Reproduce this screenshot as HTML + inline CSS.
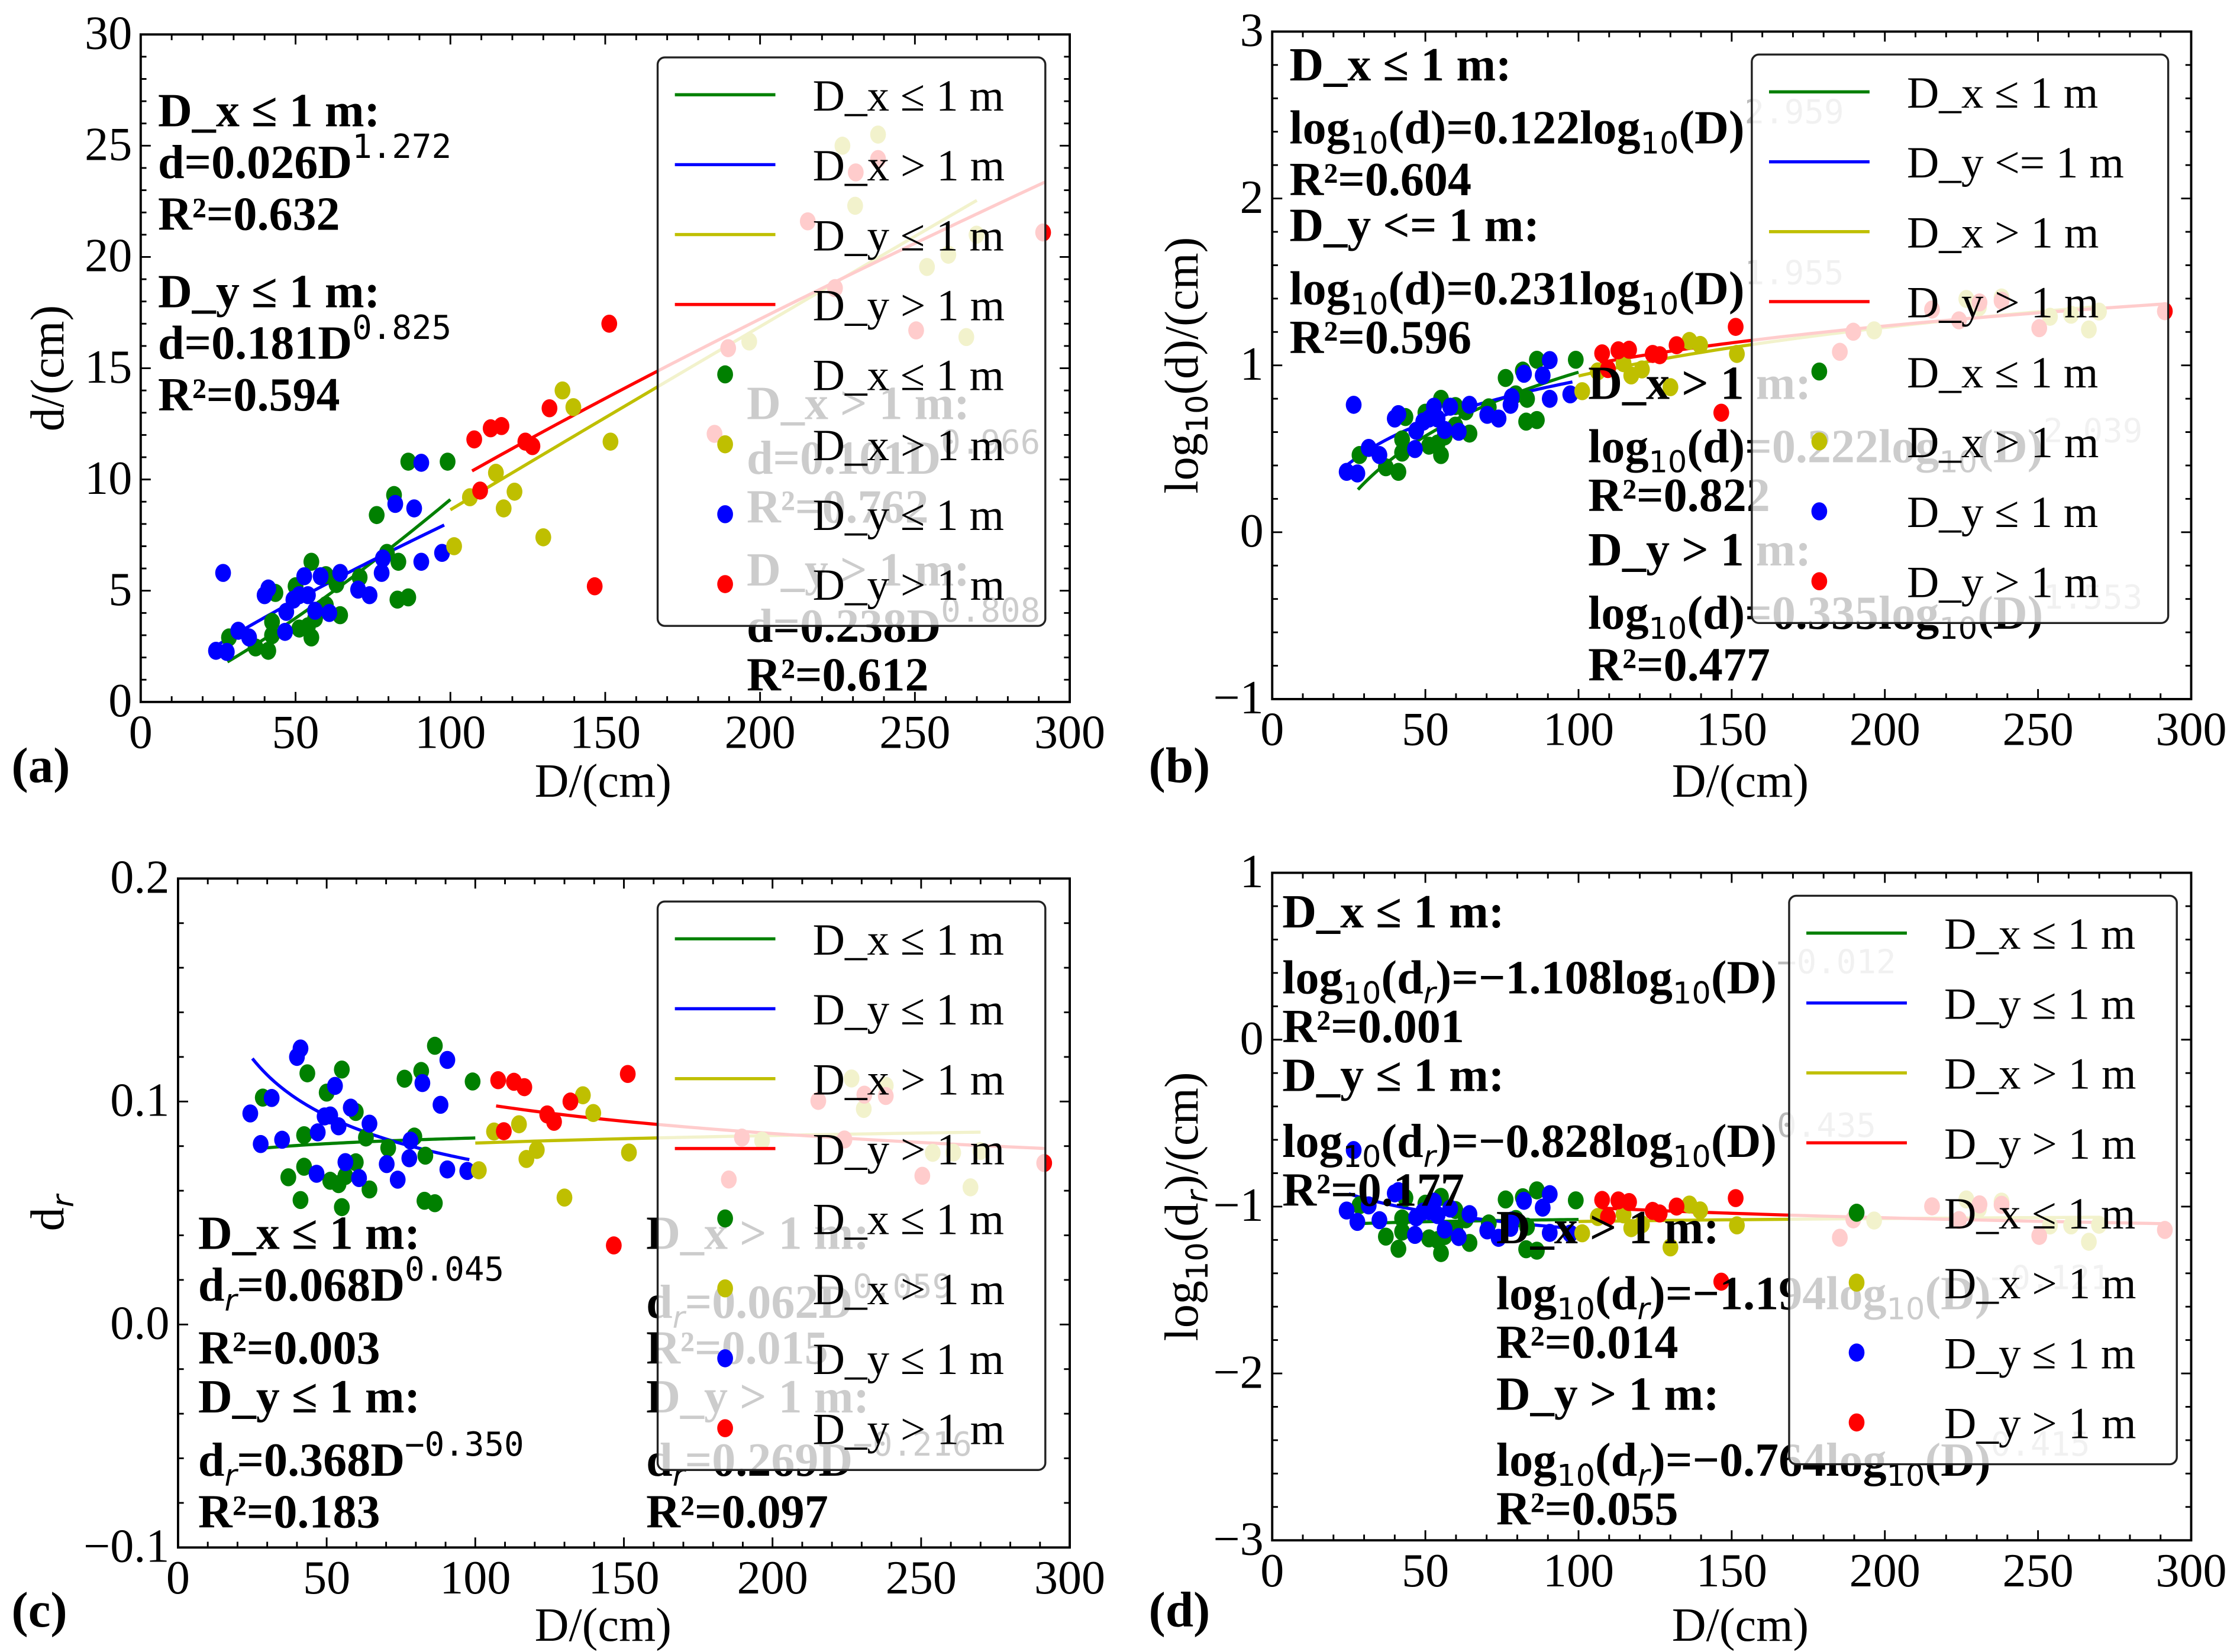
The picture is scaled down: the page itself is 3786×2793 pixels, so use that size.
<!DOCTYPE html>
<html><head><meta charset="utf-8"><style>
html,body{margin:0;padding:0;background:#fff;}
svg{display:block;}
.tk{font-family:"Liberation Serif",serif;font-size:33px;}
.an{font-family:"Liberation Serif",serif;font-size:33px;font-weight:bold;}
.sp{font-family:"DejaVu Sans Mono",monospace;font-size:23px;font-weight:normal;}
.sb{font-family:"DejaVu Sans",sans-serif;font-size:21px;font-weight:normal;}
.lg{font-family:"Liberation Serif",serif;font-size:31px;}
.ax{font-family:"Liberation Serif",serif;font-size:33px;}
.pl{font-family:"Liberation Serif",serif;font-size:35px;font-weight:bold;}
</style></head><body>
<svg id="fig" xmlns="http://www.w3.org/2000/svg" width="3786" height="2793" viewBox="0 0 1560 1150.8" preserveAspectRatio="none">
<rect x="0" y="0" width="1560" height="1151" fill="#fff"/>
<g id="layer-a"></g><g id="layer-b"></g><g id="layer-c"></g><g id="layer-d"></g>
</svg>
<script>
// ---- data: D (cm) and d (cm) per group ----
const greenD=[86.4,99.1,81.8,76.2,83.2,55.1,82.9,86.4,70.7,64.4,63.2,59.8,56.3,55.1,50,42.4,42.4,41.2,37.1,28.5,43.5,51.2,54,59.8,79.5];
const greend=[10.8,10.8,9.3,8.4,6.3,6.3,4.6,4.7,5.6,3.9,5.3,5.7,3.75,2.9,5.2,3.6,3.0,2.3,2.45,2.9,4.9,3.3,3.4,4.35,6.7];
const blueD=[26.6,24.3,27.8,31.5,35,40,41.2,47,46.6,49.3,52.8,58.1,64.4,51.2,56.3,60.9,70.2,73.9,77.8,78.2,90.6,97.3,82.2,88.3,90.6,54];
const blued=[5.8,2.3,2.25,3.2,2.9,4.8,5.1,4.05,3.15,4.6,5.65,5.65,5.8,4.8,4.1,4.0,5.05,4.8,5.8,6.45,6.3,6.7,8.9,8.7,10.75,4.8];
const yellowD=[101.2,106.3,114.7,120.7,117.2,130,136.2,139.7,151.7,196.5,226.6,238.1,230.7,269.9,253.9,260.8,266.6];
const yellowd=[7.0,9.2,10.3,9.45,8.7,7.4,14.0,13.25,11.7,16.2,25.0,25.5,22.3,21.0,19.55,20.1,16.4];
const redD=[107.7,113,116.5,124.2,126.5,132,109.6,151.3,146.6,185.3,189.7,215.4,230.9,238.1,224.2,250.4,291.4];
const redd=[11.8,12.3,12.4,11.7,11.5,13.2,9.5,17.0,5.2,12.05,15.9,21.6,23.8,24.4,18.6,16.7,21.1];
// ---- fitted power laws (d = a D^b), order: green, blue, yellow, red ----
const fitA=[0.026,0.181,0.101,0.238];
const fitB=[1.272,0.825,0.966,0.808];
const fitLo=[28,24,100,107];
const fitHi=[100,98,270,292];
// relative depth fits dr = a D^b
const fitCA=[0.068,0.368,0.062,0.269];
const fitCB=[0.045,-0.350,0.059,-0.216];
const fitCLo=[28,25,100,107];
const fitCHi=[100,98,270,292];
const xTicks=[0,50,100,150,200,250,300];
const yTicksA=[0,5,10,15,20,25,30];
const yTicksB=[-1,0,1,2,3];
const yTicksC=[-0.1,0.0,0.1,0.2];
const yTicksCLabels=["\u22120.1","0.0","0.1","0.2"];
const yTicksD=[-3,-2,-1,0,1];
const legendA=["D_x \u2264 1 m","D_x > 1 m","D_y \u2264 1 m","D_y > 1 m","D_x \u2264 1 m","D_x > 1 m","D_y \u2264 1 m","D_y > 1 m"];
const legendB=["D_x \u2264 1 m","D_y <= 1 m","D_x > 1 m","D_y > 1 m","D_x \u2264 1 m","D_x > 1 m","D_y \u2264 1 m","D_y > 1 m"];
const legendCD=["D_x \u2264 1 m","D_y \u2264 1 m","D_x > 1 m","D_y > 1 m","D_x \u2264 1 m","D_x > 1 m","D_y \u2264 1 m","D_y > 1 m"];

const NS="http://www.w3.org/2000/svg";
const COL=["#008000","#0000ff","#bfbf00","#ff0000"];
const groupsD=[greenD,blueD,yellowD,redD];
const groupsd=[greend,blued,yellowd,redd];
const groupNames=["dx-le-1m","dy-le-1m","dx-gt-1m","dy-gt-1m"];
const legMarkerCol=[COL[0],COL[2],COL[1],COL[3]];

function mk(tag,attrs,parent){const e=document.createElementNS(NS,tag);for(const k in attrs)e.setAttribute(k,attrs[k]);parent.appendChild(e);return e;}

const panels=[
 {id:'a',L:98,R:745,T:24,B:489,ymin:0,ymax:30,yt:yTicksA,ytl:yTicksA.map(String),ymaj:5,ymin2:1,
  f:(D,d)=>d, fit:i=>D=>fitA[i]*Math.pow(D,fitB[i]),lo:fitLo,hi:fitHi,leg:legendA,lx:458,lw:270,
  ylab:"d/(cm)",ylx:44,letter:"(a)",lettx:8,xlab:[420,555]},
 {id:'b',L:886,R:1526,T:22,B:487,ymin:-1,ymax:3,yt:yTicksB,ytl:["\u22121","0","1","2","3"],ymaj:1,ymin2:0.2,
  f:(D,d)=>Math.log10(d), fit:i=>D=>Math.log10(fitA[i]*Math.pow(D,fitB[i])),lo:fitLo,hi:fitHi,leg:legendB,lx:1220,lw:290,
  ylab:"log10(d)/(cm)",ylx:834,letter:"(b)",lettx:800,xlab:[1212,555]},
 {id:'c',L:124,R:745,T:612,B:1078,ymin:-0.1,ymax:0.2,yt:yTicksC,ytl:yTicksCLabels,ymaj:0.1,ymin2:0.02,
  f:(D,d)=>d/D, fit:i=>D=>fitCA[i]*Math.pow(D,fitCB[i]),lo:fitCLo,hi:fitCHi,leg:legendCD,lx:458,lw:270,
  ylab:"dr",ylx:44,letter:"(c)",lettx:8,xlab:[420,1143]},
 {id:'d',L:886,R:1526,T:608,B:1073,ymin:-3,ymax:1,yt:yTicksD,ytl:["\u22123","\u22122","\u22121","0","1"],ymaj:1,ymin2:0.2,
  f:(D,d)=>Math.log10(d/D), fit:i=>D=>Math.log10(fitCA[i]*Math.pow(D,fitCB[i])),lo:fitCLo,hi:fitCHi,leg:legendCD,lx:1246,lw:270,
  ylab:"log10(dr)/(cm)",ylx:834,letter:"(d)",lettx:800,xlab:[1212,1143]}
];

const annots={
 a:[[110,[[88,"D_x \u2264 1 m:"],[124,"d=0.026D","1.272"],[160,"R\u00b2=0.632"],[214,"D_y \u2264 1 m:"],[250,"d=0.181D","0.825"],[286,"R\u00b2=0.594"]]],
    [520,[[292,"D_x > 1 m:"],[330,"d=0.101D","0.966"],[364,"R\u00b2=0.762"],[408,"D_y > 1 m:"],[447,"d=0.238D","0.808"],[481,"R\u00b2=0.612"]]]],
 b:[[898,[[56,"D_x \u2264 1 m:"],[100,"LOG:d:0.122","2.959"],[136,"R\u00b2=0.604"],[168,"D_y <= 1 m:"],[212,"LOG:d:0.231","1.955"],[246,"R\u00b2=0.596"]]],
    [1106,[[278,"D_x > 1 m:"],[322,"LOG:d:0.222","2.039"],[356,"R\u00b2=0.822"],[394,"D_y > 1 m:"],[438,"LOG:d:0.335","1.553"],[474,"R\u00b2=0.477"]]]],
 c:[[138,[[870,"D_x \u2264 1 m:"],[906,"DR:0.068D","0.045"],[950,"R\u00b2=0.003"],[984,"D_y \u2264 1 m:"],[1028,"DR:0.368D","\u22120.350"],[1064,"R\u00b2=0.183"]]],
    [450,[[870,"D_x > 1 m:"],[918,"DR:0.062D","0.059"],[950,"R\u00b2=0.015"],[984,"D_y > 1 m:"],[1028,"DR:0.269D","\u22120.216"],[1064,"R\u00b2=0.097"]]]],
 d:[[893,[[646,"D_x \u2264 1 m:"],[692,"LOG:dr:\u22121.108","\u22120.012"],[726,"R\u00b2=0.001"],[760,"D_y \u2264 1 m:"],[806,"LOG:dr:\u22120.828","0.435"],[840,"R\u00b2=0.177"]]],
    [1042,[[866,"D_x > 1 m:"],[912,"LOG:dr:\u22121.194","\u22120.121"],[946,"R\u00b2=0.014"],[982,"D_y > 1 m:"],[1028,"LOG:dr:\u22120.764","0.415"],[1062,"R\u00b2=0.055"]]]]
};

function addText(parent,x,y,item){
  const t=mk('text',{x:x,y:y,class:'an'},parent);
  
  
  const s=item[1];
  function ts(txt,cls,dy){const e=mk('tspan',cls?{class:cls}:{},t);if(dy)e.setAttribute('dy',dy);e.textContent=txt;return e;}
  if(s.startsWith("LOG:")){
    const p=s.split(":");const v=p[1],coef=p[2];
    ts("log");ts("10","sb",7);
    if(v==="dr"){ts("(d",null,-7);const r=ts("r","sb",7);r.setAttribute('font-style','italic');ts(")="+coef+"log",null,-7);}
    else{ts("(d)="+coef+"log",null,-7);}
    ts("10","sb",7);ts("(D)",null,-7);
    const sp=ts(item[2],"sp",-14);sp.setAttribute('fill','#bbb');
  } else if(s.startsWith("DR:")){
    ts("d");const r=ts("r","sb",7);r.setAttribute('font-style','italic');ts("="+s.slice(3),null,-7);
    ts(item[2],"sp",-14);
  } else {
    ts(s);
    if(item[2]){ts(item[2],"sp",-14);}
  }
}

panels.forEach(p=>{
  const g=document.getElementById('layer-'+p.id);
  
  
  const sx=D=>p.L+(D-0)/(300-0)*(p.R-p.L);
  const sy=v=>p.B-(v-p.ymin)/(p.ymax-p.ymin)*(p.B-p.T);
  const clip=mk('clipPath',{id:'clip-'+p.id},g);
  mk('rect',{x:p.L,y:p.T,width:p.R-p.L,height:p.B-p.T},clip);
  const fg=mk('g',{'clip-path':'url(#clip-'+p.id+')'},g);
  for(let i=0;i<4;i++){
    const f=p.fit(i);let pts=[];
    for(let k=0;k<=60;k++){const D=p.lo[i]+(p.hi[i]-p.lo[i])*k/60;pts.push(sx(D).toFixed(2)+","+sy(f(D)).toFixed(2));}
    const pl=mk('polyline',{points:pts.join(" "),fill:'none',stroke:COL[i],'stroke-width':2.2},fg);
    
    
  }
  for(let i=0;i<4;i++){
    const Ds=groupsD[i],ds=groupsd[i];
    for(let j=0;j<Ds.length;j++){
      const v=p.f(Ds[j],ds[j]);
      const c=mk('ellipse',{cx:sx(Ds[j]),cy:sy(v),rx:5.5,ry:6.3,fill:COL[i]},fg);
      
      
    }
  }
  annots[p.id].forEach(blk=>{blk[1].forEach(it=>addText(g,blk[0],it[0],it));});
  const fr=mk('rect',{x:p.L,y:p.T,width:p.R-p.L,height:p.B-p.T,fill:'none',stroke:'#000','stroke-width':1.6},g);
  
  
  for(let D=0;D<=300;D+=10){
    const maj=D%50===0,len=maj?7:4,x=sx(D);
    mk('line',{x1:x,y1:p.B,x2:x,y2:p.B-len,stroke:'#000','stroke-width':1.2},g);
    mk('line',{x1:x,y1:p.T,x2:x,y2:p.T+len,stroke:'#000','stroke-width':1.2},g);
  }
  xTicks.forEach(D=>{const t=mk('text',{x:sx(D),y:p.B+32,'text-anchor':'middle',class:'tk'},g);
    
    
    t.textContent=String(D);});
  const nMin=Math.round((p.ymax-p.ymin)/p.ymin2);
  for(let k=0;k<=nMin;k++){
    const v=p.ymin+k*p.ymin2;const maj=Math.abs(((v-p.ymin)/p.ymaj)-Math.round((v-p.ymin)/p.ymaj))<1e-6;
    const len=maj?7:4,y=sy(v);
    mk('line',{x1:p.L,y1:y,x2:p.L+len,y2:y,stroke:'#000','stroke-width':1.2},g);
    mk('line',{x1:p.R,y1:y,x2:p.R-len,y2:y,stroke:'#000','stroke-width':1.2},g);
  }
  p.yt.forEach((v,k)=>{const t=mk('text',{x:p.L-6,y:sy(v)+10,'text-anchor':'end',class:'tk'},g);
    
    
    t.textContent=p.ytl[k];});
  const xl=mk('text',{x:p.xlab[0],y:p.xlab[1],'text-anchor':'middle',class:'ax'},g);
  
  
  xl.textContent="D/(cm)";
  const cy=(p.T+p.B)/2;
  const yl=mk('text',{x:0,y:0,'text-anchor':'middle',class:'ax',transform:'translate('+p.ylx+','+cy+') rotate(-90)'},g);
  
  
  if(p.ylab==="d/(cm)"){yl.textContent="d/(cm)";}
  else if(p.ylab==="dr"){yl.textContent="d";const s=mk('tspan',{class:'sb',dy:7,'font-style':'italic'},yl);s.textContent="r";}
  else{
    const a=mk('tspan',{},yl);a.textContent="log";
    const b=mk('tspan',{class:'sb',dy:7},yl);b.textContent="10";
    if(p.ylab.indexOf("dr")>=0){const c=mk('tspan',{dy:-7},yl);c.textContent="(d";const r=mk('tspan',{class:'sb',dy:7,'font-style':'italic'},yl);r.textContent="r";const e=mk('tspan',{dy:-7},yl);e.textContent=")/(cm)";}
    else{const c=mk('tspan',{dy:-7},yl);c.textContent="(d)/(cm)";}
  }
  const pl=mk('text',{x:p.lettx,y:p.xlab[1]-10,class:'pl'},g);
  
  
  pl.textContent=p.letter;
  const lg=mk('g',{},g);
  
  
  const ly=p.T+16;
  mk('rect',{x:p.lx,y:ly,width:p.lw,height:396,rx:5,fill:'#fff','fill-opacity':0.8,stroke:'#222','stroke-width':1.4},lg);
  for(let k=0;k<8;k++){
    const yy=ly+26+k*48.7;
    if(k<4){mk('line',{x1:p.lx+12,y1:yy,x2:p.lx+82,y2:yy,stroke:COL[k],'stroke-width':2.2},lg);}
    else{mk('ellipse',{cx:p.lx+47,cy:yy,rx:5.5,ry:6.3,fill:legMarkerCol[k-4]},lg);}
    const t=mk('text',{x:p.lx+108,y:yy+11,class:'lg'},lg);
    
    
    t.textContent=p.leg[k];
  }
});
</script>
</body></html>
